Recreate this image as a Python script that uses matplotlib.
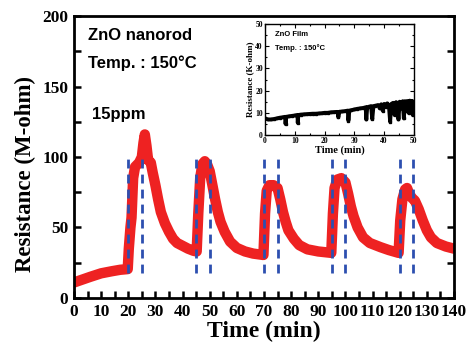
import matplotlib.pyplot as plt
from matplotlib.ticker import MultipleLocator

# main sensor response (ZnO nanorod, 15 ppm)
t_main = [0, 3, 6, 10, 14, 17, 19.8,
          20.2, 20.8, 21.2, 21.8, 22.5, 24, 25, 25.6, 26.1, 26.7, 27.3, 28.3,
          29, 30, 31, 32, 33.5, 35, 36.5, 38, 40, 42, 44, 45.2,
          45.8, 46.5, 47.3, 48.2, 49, 50, 51, 52, 53, 54, 55.5, 57.5, 60, 63, 66, 69.8,
          70.4, 71, 72, 73.5, 75, 76, 77, 78, 79, 81, 83, 86, 90, 94.8,
          95.4, 96, 97, 98.5, 100, 101, 102, 103, 104.5, 106.5, 109, 113, 116, 119.6,
          120.2, 121, 122, 122.7, 123.5, 124.5, 125.6, 127, 128.5, 130, 131.5, 133.7, 137, 140]
r_main = [11, 13, 15, 17.5, 19, 20, 20.5,
          35, 50, 57, 85, 93, 96, 100, 110, 116, 108, 98, 96,
          89, 80, 70, 61, 53, 47, 42, 39, 37, 35, 33.5, 33,
          60, 85, 95, 97, 95, 90, 80, 70, 61, 54, 47, 40, 35.5, 33, 31.5, 30.5,
          60, 76, 80, 80, 78, 70, 61, 54, 48, 42, 37.5, 34.5, 33, 32,
          60, 78, 84, 85, 82, 74, 65, 58, 50, 43, 39, 36, 34, 32,
          55, 70, 77, 78, 74, 71, 69, 63, 55, 48, 43, 39, 36.5, 35]

# gas on / off markers
t_events = [20, 25, 45, 50, 70, 75, 95, 100, 120, 125]

# inset: ZnO film
t_film = [0, 1, 2, 3, 4, 5, 6, 6.8, 6.9, 7.1, 8, 9, 10, 10.9, 11, 11.2, 12, 13, 14, 15, 16, 17, 18,
          19, 20, 21, 22, 23, 24, 24.4, 24.6, 25, 26, 27, 27.8, 28, 28.3, 29, 30, 31, 32, 33,
          33.8, 34, 34.3, 35, 35.6, 36, 36.4, 37, 38, 38.5, 39, 39.5, 40, 40.5, 41, 41.6,
          42, 42.4, 43, 43.5, 44, 44.5, 44.8, 45.2, 45.8, 46.2, 46.6, 47, 47.4, 47.8,
          48.2, 48.6, 49, 49.3, 49.6, 50]
r_film = [7.5, 7, 7, 7.2, 7.5, 7.8, 8, 8.2, 5, 8.2, 8.4, 8.6, 8.8, 9, 5.5, 9, 9.2, 9.3, 9.4, 9.5,
          9.6, 9.6, 9.7, 9.8, 10, 10, 10.2, 10.3, 10.4, 10.4, 8, 10.5, 10.6, 10.8, 11, 6.5,
          11, 11.2, 11.5, 11.8, 12, 12.2, 12.5, 7, 12.5, 12.8, 13, 7.2, 13, 13.2, 13.5, 12,
          13.8, 11, 14, 12.5, 14.2, 13, 6, 14, 14.5, 9, 14.8, 12, 7, 15, 12, 15.2, 7.5,
          15.2, 11, 15.3, 10, 15.5, 14, 15.3, 9, 15]

fig = plt.figure(figsize=(4.7, 3.48), dpi=100)
ax = fig.add_axes([0.1574, 0.1437, 0.8085, 0.8103])

ax.plot(t_main, r_main, color='#ee2222', lw=7.5, solid_joinstyle='round',
        solid_capstyle='round', zorder=2)
ax.vlines(t_events, 18, 100, colors='#2d4fb0', linestyles=(0, (3.2, 2.2)), lw=2, zorder=3)

ax.set_xlim(0, 140)
ax.set_ylim(0, 200)
ax.xaxis.set_major_locator(MultipleLocator(10))
ax.xaxis.set_minor_locator(MultipleLocator(5))
ax.yaxis.set_major_locator(MultipleLocator(50))
ax.yaxis.set_minor_locator(MultipleLocator(25))
ax.tick_params(which='both', direction='in', right=True, width=1.8)
ax.tick_params(which='major', length=5, pad=4)
ax.tick_params(which='minor', length=5)
for s in ax.spines.values():
    s.set_linewidth(2)

serif = {'family': 'Liberation Serif', 'weight': 'bold'}
for lab in ax.get_xticklabels() + ax.get_yticklabels():
    lab.set_fontfamily('Liberation Serif')
    lab.set_fontweight('bold')
    lab.set_fontsize(12.5)
ax.set_xlabel('Time (min)', fontdict=serif, fontsize=17, labelpad=1)
ax.set_ylabel('Resistance (M-ohm)', fontdict=serif, fontsize=16.5, labelpad=3)
ax.yaxis.set_label_coords(-0.1, 0.44)

sans = {'family': 'Liberation Sans', 'weight': 'bold'}
ax.text(5, 183, 'ZnO nanorod', fontdict=sans, fontsize=12)
ax.text(5, 163, 'Temp. : 150°C', fontdict=sans, fontsize=12)
ax.text(6.5, 127, '15ppm', fontdict=sans, fontsize=12)

# inset
ins = fig.add_axes([0.5638, 0.612, 0.317, 0.319])
ins.plot(t_film, r_film, color='black', lw=2.8, marker='s', ms=2, zorder=2)
ins.set_xlim(0, 50)
ins.set_ylim(0, 50)
ins.xaxis.set_major_locator(MultipleLocator(10))
ins.xaxis.set_minor_locator(MultipleLocator(5))
ins.yaxis.set_major_locator(MultipleLocator(10))
ins.yaxis.set_minor_locator(MultipleLocator(5))
ins.tick_params(which='both', direction='in', top=True, right=True, width=0.8, pad=1.5)
ins.tick_params(which='major', length=3)
ins.tick_params(which='minor', length=1.5)
for s in ins.spines.values():
    s.set_linewidth(1)
for lab in ins.get_xticklabels() + ins.get_yticklabels():
    lab.set_fontfamily('Liberation Serif')
    lab.set_fontweight('bold')
    lab.set_fontsize(5.5)
ins.set_xlabel('Time (min)', fontdict=serif, fontsize=7.5, labelpad=0)
ins.set_ylabel('Resistance (K-ohm)', fontdict=serif, fontsize=6.5, labelpad=1)
ins.text(3.5, 44.5, 'ZnO Film', fontdict=sans, fontsize=5.5)
ins.text(3.5, 38.5, 'Temp. : 150°C', fontdict=sans, fontsize=5.5)

fig.savefig('out.png', dpi=100)
